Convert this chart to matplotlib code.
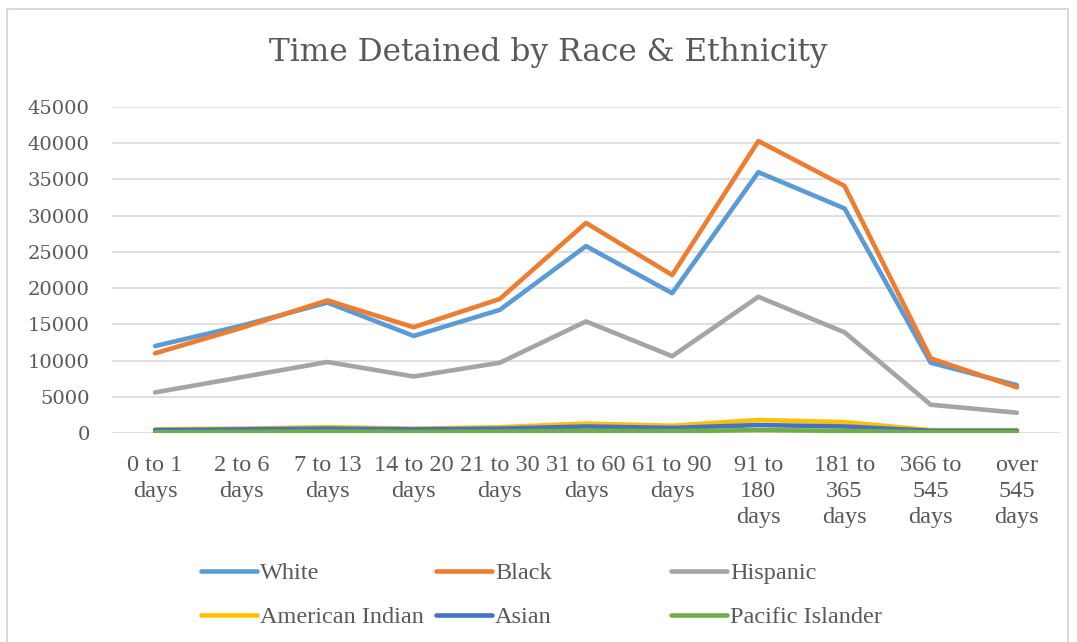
import matplotlib
matplotlib.use("Agg")
import matplotlib.pyplot as plt
from matplotlib.patches import Rectangle

categories = ["0 to 1\ndays", "2 to 6\ndays", "7 to 13\ndays", "14 to 20\ndays",
              "21 to 30\ndays", "31 to 60\ndays", "61 to 90\ndays", "91 to\n180\ndays",
              "181 to\n365\ndays", "366 to\n545\ndays", "over\n545\ndays"]
white = [12000, 14800, 18000, 13400, 17000, 25800, 19300, 36000, 31000, 9700, 6600]
black = [11000, 14500, 18300, 14600, 18500, 29000, 21800, 40300, 34100, 10300, 6300]
hispanic = [5600, 7700, 9800, 7800, 9700, 15400, 10600, 18800, 13900, 3900, 2800]
american_indian = [500, 600, 800, 600, 800, 1300, 1000, 1800, 1500, 400, 400]
asian = [400, 500, 600, 500, 600, 900, 700, 1100, 900, 300, 300]
pacific_islander = [100, 150, 200, 150, 200, 300, 250, 400, 300, 100, 100]
yticks = [0, 5000, 10000, 15000, 20000, 25000, 30000, 35000, 40000, 45000]

series = [("White", white, "#5B9BD5"), ("Black", black, "#ED7D31"),
          ("Hispanic", hispanic, "#A5A5A5"), ("American Indian", american_indian, "#FFC000"),
          ("Asian", asian, "#4472C4"), ("Pacific Islander", pacific_islander, "#70AD47")]

TXT = "#595959"
W, H = 1077, 642
fig = plt.figure(figsize=(W / 100, H / 100), dpi=100)
fig.patches.append(Rectangle((7 / W, -0.1), 1061 / W, 1 - 9 / H + 0.1, transform=fig.transFigure,
                             fill=False, edgecolor="#d9d9d9", linewidth=1.5))

ax = fig.add_axes([112 / W, 1 - 433 / H, (1060 - 112) / W, (433 - 107) / H])
x = list(range(len(categories)))
lines = {}
for name, vals, col in series:
    ln, = ax.plot(x, vals, color=col, linewidth=3.3, solid_capstyle="round",
                  solid_joinstyle="round", label=name)
    lines[name] = ln

ax.set_xlim(-0.5, len(categories) - 0.5)
ax.set_ylim(0, 45000)
ax.set_yticks(yticks)
ax.set_yticklabels([str(v) for v in yticks], fontsize=14, color=TXT, family="DejaVu Serif")
ax.set_xticks(x)
ax.set_xticklabels(categories, fontsize=17.5, color=TXT, family="Liberation Serif",
                   linespacing=1.31, va="top")
ax.tick_params(axis="y", length=0, pad=16)
ax.tick_params(axis="x", length=0, pad=16)
for s in ax.spines.values():
    s.set_visible(False)
ax.grid(axis="y", color="#d9d9d9", linewidth=1.2)
ax.set_axisbelow(True)

fig.text(548 / W, 1 - 53 / H, "Time Detained by Race & Ethnicity", ha="center", va="center",
         fontsize=22.5, color=TXT, family="DejaVu Serif")

groups = [(201, ["White", "American Indian"]), (436, ["Black", "Asian"]),
          (671, ["Hispanic", "Pacific Islander"])]
for xpx, names in groups:
    leg = fig.legend([lines[n] for n in names], names, loc="upper left",
                     bbox_to_anchor=(xpx / W, 1 - 562 / H), frameon=False,
                     borderaxespad=0, borderpad=0,
                     handlelength=2.3, handletextpad=0.12, labelspacing=0.92,
                     prop={"family": "Liberation Serif", "size": 17.5})
    for t in leg.get_texts():
        t.set_color(TXT)

fig.savefig("out.png", dpi=100)
